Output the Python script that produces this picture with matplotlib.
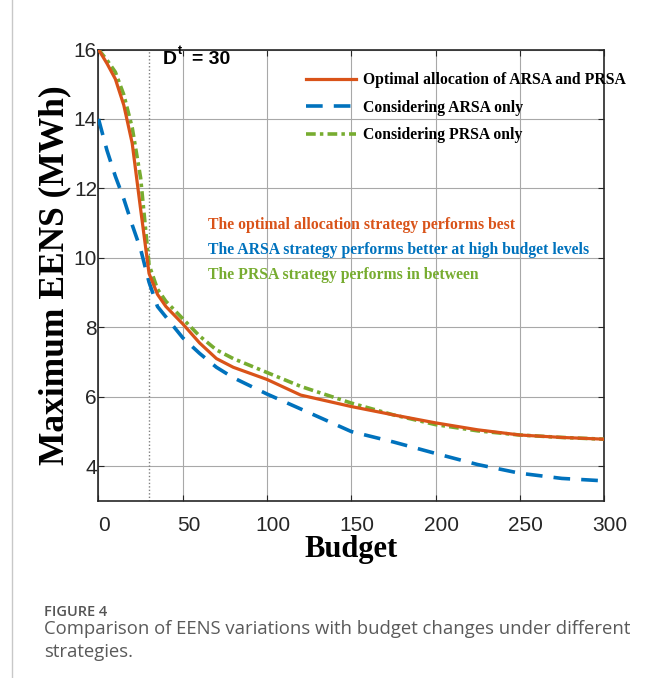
import matplotlib
matplotlib.use("Agg")
import matplotlib.pyplot as plt
import matplotlib.transforms as mtrans

# * data
budget = [0, 5, 10, 15, 20, 25, 30, 35, 40, 50, 60, 70, 80, 100, 120, 150, 175, 200, 225, 250, 275, 300]
eens_opt = [16.0, 15.6, 15.15, 14.4, 13.3, 11.4, 9.55, 8.95, 8.6, 8.1, 7.55, 7.1, 6.85, 6.5, 6.05, 5.72, 5.48, 5.25, 5.05, 4.9, 4.83, 4.78]
eens_arsa = [14.0, 13.1, 12.35, 11.7, 10.95, 10.25, 9.3, 8.6, 8.3, 7.7, 7.25, 6.85, 6.55, 6.08, 5.65, 5.0, 4.7, 4.37, 4.05, 3.8, 3.65, 3.58]
eens_prsa = [16.0, 15.7, 15.35, 14.7, 13.75, 12.3, 9.8, 9.1, 8.75, 8.25, 7.75, 7.35, 7.1, 6.7, 6.3, 5.82, 5.48, 5.2, 5.02, 4.9, 4.83, 4.78]

d_t = 30
label_ls = ["Optimal allocation of ARSA and PRSA", "Considering ARSA only", "Considering PRSA only"]
note_ls = [
    "The optimal allocation strategy performs best",
    "The ARSA strategy performs better at high budget levels",
    "The PRSA strategy performs in between",
]
xticks = [0, 50, 100, 150, 200, 250, 300]
yticks = [4, 6, 8, 10, 12, 14, 16]

c_red = "#D95319"
c_blue = "#0072BD"
c_green = "#77AC30"
ink = "#262626"

serif = "Liberation Serif"
sans = "Liberation Sans"
plt.rcParams["lines.scale_dashes"] = False
plt.rcParams["font.family"] = sans

W, H = 652, 678
fig = plt.figure(figsize=(W / 100, H / 100), dpi=100)
ax = fig.add_axes([98.5 / W, 1 - 501 / H, (604 - 98.5) / W, (501 - 49.5) / H])

ax.plot(budget, eens_opt, color=c_red, lw=2.3, label=label_ls[0], zorder=4)
ax.plot(budget, eens_arsa, color=c_blue, lw=2.6, dashes=(12, 8), label=label_ls[1], zorder=3)
ax.plot(budget, eens_prsa, color=c_green, lw=2.6, dashes=(7, 3, 2.5, 3), label=label_ls[2], zorder=3)

ax.axvline(d_t, color="#808080", lw=1.0, ls=(0, (1, 1.5)), zorder=2)

ax.set_xlim(0, 300)
ax.set_ylim(3, 16)
ax.set_xticks(xticks)
ax.set_yticks(yticks)
ax.grid(True, color="#a8a8a8", lw=0.8)
ax.set_axisbelow(True)

ax.tick_params(direction="in", length=4, width=0.8, colors=ink, top=True, right=True)
ax.tick_params(axis="x", pad=11, labelsize=15)
ax.tick_params(axis="y", pad=1, labelsize=15)
# x tick labels sit a little right of the grid lines in the original
off = mtrans.ScaledTranslation(6 / 100, 0, fig.dpi_scale_trans)
for lab in ax.get_xticklabels():
    lab.set_transform(lab.get_transform() + off)

for sp in ax.spines.values():
    sp.set_color(ink)
    sp.set_linewidth(1.2)

ax.set_xlabel("Budget", family=serif, weight="bold", fontsize=22, color="black", labelpad=0)
ax.set_ylabel("Maximum EENS (MWh)", family=serif, weight="bold", fontsize=25.5, color="black", labelpad=2)

# D^t = 30 marker text
fig.text(163 / W, 1 - 64 / H, "D", weight="bold", fontsize=14, color="black")
fig.text(178 / W, 1 - 54 / H, "t", weight="bold", fontsize=9, color="black")
fig.text(192 / W, 1 - 64 / H, "= 30", weight="bold", fontsize=14, color="black")

ax.legend(
    loc="upper left",
    bbox_to_anchor=(306 / W, 1 - 72 / H),
    bbox_transform=fig.transFigure,
    frameon=False,
    prop={"family": serif, "weight": "bold", "size": 11.3},
    handlelength=3.2,
    handletextpad=0.45,
    labelspacing=0.74,
    borderpad=0,
    borderaxespad=0,
)

# colored notes
for txt, c, yy in zip(note_ls, [c_red, c_blue, c_green], [225, 250, 275]):
    fig.text(208 / W, 1 - yy / H, txt, family=serif, weight="bold", fontsize=11.3, color=c, va="center")

# caption and page frame
fig.add_artist(plt.Line2D([12 / W, 12 / W], [0, 1], color="#c8c8c8", lw=1.0))
fig.text(44 / W, 1 - 612 / H, "FIGURE 4", family="Open Sans", weight="semibold", fontsize=10.5, color="#555555", va="center")
fig.text(44 / W, 1 - 629 / H, "Comparison of EENS variations with budget changes under different",
         family="Open Sans", fontsize=13.3, color="#5a5a5a", va="center")
fig.text(44 / W, 1 - 652 / H, "strategies.", family="Open Sans", fontsize=13.3, color="#5a5a5a", va="center")

fig.savefig("out.png", dpi=100)
